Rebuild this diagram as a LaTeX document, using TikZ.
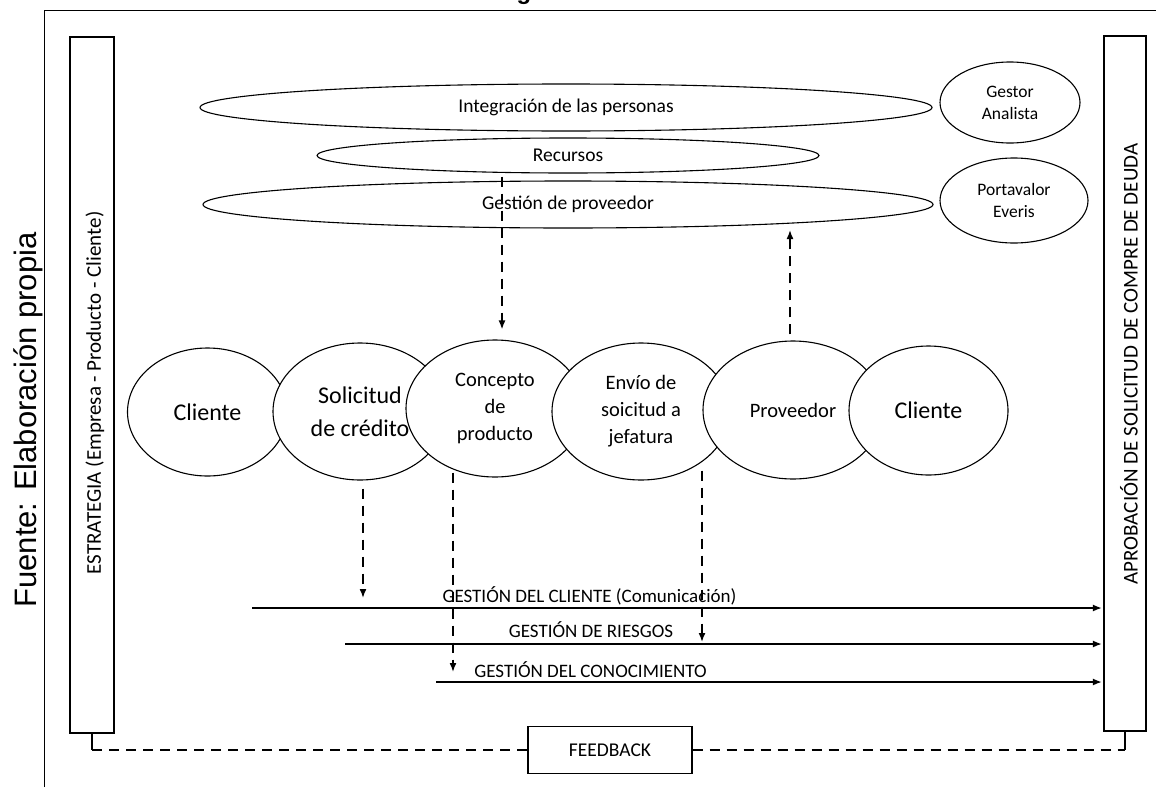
\documentclass[tikz,border=0pt]{standalone}
\usepackage{fontspec}
\setmainfont{Carlito}
\newfontfamily\arialfont{Liberation Sans}
\usetikzlibrary{shapes.geometric,arrows.meta,calc}

\begin{document}
\begin{tikzpicture}[x=1pt,y=-1pt,
  oval/.style={ellipse, draw, line width=1.1pt, fill=white, inner sep=0pt, align=center},
  vbox/.style={rectangle, draw, line width=1.2pt, fill=white, inner sep=0pt},
  flowarrow/.style={line width=1.6pt, -{Latex[length=9pt,width=7pt]}},
  dasharrow/.style={line width=1.6pt, dash pattern=on 10pt off 7pt, -{Latex[length=9pt,width=7pt]}},
  dashlink/.style={line width=1.6pt, dash pattern=on 10pt off 7pt},
  stub/.style={line width=1.3pt},
  lbl/.style={font=\fontsize{19}{23}\selectfont, inner sep=0pt, anchor=base},
  f19/.style={font=\fontsize{19.5}{23}\selectfont},
  f17/.style={font=\fontsize{17.5}{22}\selectfont},
  f20/.style={font=\fontsize{20.5}{27}\selectfont},
  f24/.style={font=\fontsize{24}{33}\selectfont},
  sidetext/.style={rotate=90, font=\fontsize{21}{25}\selectfont, inner sep=0pt},
]
\useasboundingbox (0,0) rectangle (1156,787);

% outer frame and the clipped heading above it
\node[font=\arialfont\bfseries\fontsize{24}{28}\selectfont, anchor=base, inner sep=0pt] (ttl) at (524,-1) {g};
\draw[line width=1pt] (44,787) -- (44,10) -- (1156,10);

% side bars
\node[vbox, minimum width=44, minimum height=696] (est) at (92,385) {};
\node[sidetext] (estt) at (95,393) {ESTRATEGIA (Empresa - Producto - Cliente)};
\node[vbox, minimum width=42, minimum height=695] (apr) at (1125,383.5) {};
\node[sidetext] (aprt) at (1129,364) {APROBACIÓN DE SOLICITUD DE COMPRE DE DEUDA};
\node[rotate=90, font=\arialfont\fontsize{31}{36}\selectfont, inner sep=0pt] (src) at (28,420) {Fuente: Elaboración propia};

% upper layer of support processes
\node[oval, f19, minimum width=732, minimum height=47] (int) at (566,107.5) {Integración de las personas};
\node[oval, f19, minimum width=502, minimum height=35] (rec) at (568,155.5) {Recursos};
\node[oval, f19, minimum width=730, minimum height=47] (gdp) at (568,204.5) {Gestión de proveedor};
\node[oval, f17, minimum width=140, minimum height=81] (gan) at (1010,102.5) {Gestor\\Analista};
\node[oval, f17, minimum width=148, minimum height=85] (pev) at (1014,200.5) {Portavalor\\Everis};

% main chain, each stage drawn over the previous one
\node[oval, f24, minimum width=160, minimum height=128] (cl1) at (207.5,412) {Cliente};
\node[oval, f24, minimum width=174, minimum height=137] (sol) at (360,411.5) {Solicitud\\de crédito};
\node[oval, f20, minimum width=178, minimum height=137] (con) at (495,408.5) {Concepto\\de\\producto};
\node[oval, f20, minimum width=178, minimum height=137] (env) at (641,411.5) {Envío de\\soicitud a\\jefatura};
\node[oval, f20, minimum width=180, minimum height=138] (pro) at (793,410) {Proveedor};
\node[oval, f24, minimum width=159, minimum height=129] (cl2) at (928.5,410.5) {Cliente};

% management lines towards the approval bar
\coordinate (g1) at (252,608);
\coordinate (g2) at (345,644);
\coordinate (g3) at (436,682);
\draw[flowarrow, shorten >=1.5pt] (g1) -- (g1 -| apr.west);
\draw[flowarrow, shorten >=1.5pt] (g2) -- (g2 -| apr.west);
\draw[flowarrow, shorten >=1.5pt] (g3) -- (g3 -| apr.west);
\node[lbl] (g1t) at (589.5,602) {GESTIÓN DEL CLIENTE (Comunicación)};
\node[lbl] (g2t) at (591,637) {GESTIÓN DE RIESGOS};
\node[lbl] (g3t) at (590.5,677) {GESTIÓN DEL CONOCIMIENTO};

% dashed flows
\coordinate (recOut) at ($(rec.south)+(-66,3)$);
\coordinate (conIn) at ($(con.north)+(7,-10)$);
\coordinate (proOut) at ($(pro.north)+(-3,-6)$);
\coordinate (gdpIn) at (790,230);
\coordinate (solOut) at ($(sol.south)+(3,8)$);
\coordinate (solEnd) at (363,598);
\coordinate (conOut) at ($(con.south)+(-42,-5)$);
\coordinate (conEnd) at (453,672);
\coordinate (envOut) at ($(env.south)+(61,-10)$);
\coordinate (envEnd) at (702,642);
\draw[dasharrow] (recOut) -- (conIn);
\draw[dasharrow] (proOut) -- (gdpIn);
\draw[dasharrow] (solOut) -- (solEnd);
\draw[dasharrow] (conOut) -- (conEnd);
\draw[dasharrow] (envOut) -- (envEnd);

% feedback loop
\node[vbox, f19, minimum width=164, minimum height=47] (fb) at (610,750) {FEEDBACK};
\draw[stub] (est.south) -- (est.south |- fb.center) coordinate (fbl);
\draw[dashlink] (fbl) -- (fb.west);
\draw[stub] (apr.south) -- (apr.south |- fb.center) coordinate (fbr);
\draw[dashlink] (fb.east) -- (fbr);
\end{tikzpicture}
\end{document}
